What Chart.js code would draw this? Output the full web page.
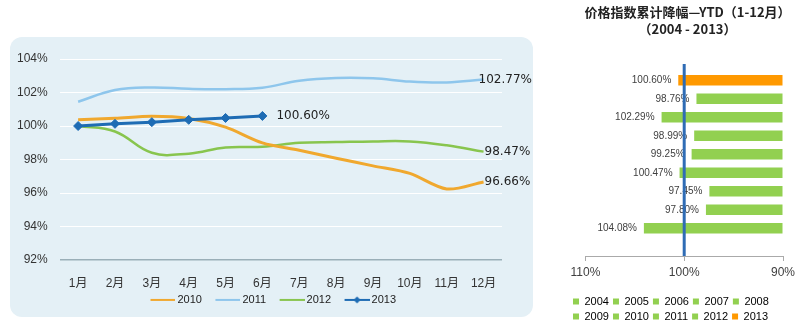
<!DOCTYPE html>
<html>
<head>
<meta charset="utf-8">
<script src="https://cdn.jsdelivr.net/npm/chart.js@4.4.1/dist/chart.umd.min.js"></script>
<style>
  html, body { margin: 0; padding: 0; background: #ffffff; overflow: hidden; }
  body { width: 800px; height: 333px; position: relative; }
  #trendBox {
    position: absolute; left: 10px; top: 37px; width: 523px; height: 280px;
    background: #e4f0f6; border-radius: 12px;
  }
  #ytdBox { position: absolute; left: 566px; top: 0; width: 234px; height: 333px; }
</style>
</head>
<body>
<div id="trendBox"><canvas id="trendChart"></canvas></div>
<div id="ytdBox"><canvas id="ytdChart"></canvas></div>

<script>
/* ============================================
   DATA
============================================ */

const months = ["1月", "2月", "3月", "4月", "5月", "6月", "7月", "8月", "9月", "10月", "11月", "12月"];

const index2010 = [100.38, 100.46, 100.58, 100.45, 99.93, 98.99, 98.55, 98.08, 97.62, 97.17, 96.24, 96.66];
const index2011 = [101.45, 102.15, 102.30, 102.22, 102.20, 102.29, 102.70, 102.87, 102.85, 102.65, 102.60, 102.77];
const index2012 = [100.00, 99.67, 98.40, 98.35, 98.72, 98.76, 99.00, 99.04, 99.08, 99.08, 98.85, 98.47];
const index2013 = [100.00, 100.13, 100.23, 100.37, 100.48, 100.60];

const ytdYears  = ["2004", "2005", "2006", "2007", "2008", "2009", "2010", "2011", "2012", "2013"];
const ytdValues = [null, 104.08, 97.80, 97.45, 100.47, 99.25, 98.99, 102.29, 98.76, 100.60];

/* ============================================
   STYLE
============================================ */

const C2010 = "#f0a82e";
const C2011 = "#8ec6ec";
const C2012 = "#88c54e";
const C2013 = "#1e6cb4";
const BAR_GREEN = "#92d050";
const BAR_ORANGE = "#ff9900";

Chart.defaults.font.family = "'Liberation Sans', Arial, 'Noto Sans CJK SC', sans-serif";
Chart.defaults.color = "#333333";
Chart.defaults.animation = false;

// line samples for the trend legend (line sits at the right end, next to the text)
function legendIcon(color, width, diamond) {
    const c = document.createElement("canvas");
    c.width = 38;
    c.height = 10;
    const g = c.getContext("2d");
    g.strokeStyle = color;
    g.lineWidth = width;
    g.beginPath();
    g.moveTo(13, 5);
    g.lineTo(38, 5);
    g.stroke();
    if (diamond) {
        g.fillStyle = color;
        g.beginPath();
        g.moveTo(25.5, 1.5);
        g.lineTo(29, 5);
        g.lineTo(25.5, 8.5);
        g.lineTo(22, 5);
        g.closePath();
        g.fill();
    }
    return c;
}

const trendIcons = [
    legendIcon(C2010, 2, false),
    legendIcon(C2011, 2, false),
    legendIcon(C2012, 2, false),
    legendIcon(C2013, 2, true)
];

/* ============================================
   Value labels at the end of each line
============================================ */

const endLabels = {
    id: "endLabels",
    afterDatasetsDraw(chart) {
        const ctx = chart.ctx;
        ctx.save();
        ctx.font = "12px 'DejaVu Sans', Verdana, sans-serif";
        ctx.fillStyle = "#222222";
        ctx.textAlign = "left";
        ctx.textBaseline = "middle";
        chart.data.datasets.forEach((ds, i) => {
            const last = ds.data.length - 1;
            const pt = chart.getDatasetMeta(i).data[last];
            ctx.fillText(ds.data[last].toFixed(2) + "%", pt.x + ds.labelGap, pt.y);
        });
        ctx.restore();
    }
};

/* ============================================
   Chart 1: monthly index lines
============================================ */

new Chart(document.getElementById("trendChart"), {
    type: "line",
    data: {
        labels: months,
        datasets: [
            { label: "2010", data: index2010, borderColor: C2010, backgroundColor: C2010,
              borderWidth: 3, pointRadius: 0, tension: 0.3, labelGap: 1 },
            { label: "2011", data: index2011, borderColor: C2011, backgroundColor: C2011,
              borderWidth: 2.5, pointRadius: 0, tension: 0.4, labelGap: -5 },
            { label: "2012", data: index2012, borderColor: C2012, backgroundColor: C2012,
              borderWidth: 2.5, pointRadius: 0, tension: 0.4, labelGap: 1 },
            { label: "2013", data: index2013, borderColor: C2013, backgroundColor: C2013,
              borderWidth: 3, pointStyle: "rectRot", pointRadius: 4.5,
              pointBackgroundColor: C2013, pointBorderColor: C2013, pointBorderWidth: 1,
              tension: 0, order: -1, labelGap: 14 }
        ]
    },
    options: {
        responsive: true,
        maintainAspectRatio: false,
        layout: { padding: { top: 22, left: 7, right: 13, bottom: 1.6 } },
        scales: {
            x: {
                offset: true,
                grid: { display: false, drawTicks: false },
                border: { display: false },
                ticks: { padding: 16, color: "#333333", font: { size: 12 } },
                afterFit(scale) { scale.height -= scale.options.ticks.padding; }
            },
            y: {
                min: 92,
                max: 104,
                grid: {
                    drawTicks: false,
                    color: ctx => (ctx.tick && ctx.tick.value === 92 ? "#9aafb8" : "#ffffff"),
                    lineWidth: ctx => (ctx.tick && ctx.tick.value === 92 ? 1.5 : 1)
                },
                border: { display: false },
                ticks: {
                    stepSize: 2,
                    padding: 12,
                    color: "#333333",
                    font: { size: 12 },
                    callback: v => v + "%"
                },
                afterFit(scale) { scale.width -= scale.options.ticks.padding; }
            },
            // empty strip on the right, room for the end labels
            yRight: {
                position: "right",
                grid: { display: false },
                border: { display: false },
                ticks: { display: false },
                afterFit(scale) { scale.width = 18; }
            }
        },
        plugins: {
            tooltip: { enabled: false },
            legend: {
                position: "bottom",
                labels: {
                    usePointStyle: true,
                    pointStyleWidth: 31,
                    padding: 4,
                    color: "#222222",
                    font: { size: 11 },
                    sort: (a, b) => a.datasetIndex - b.datasetIndex,
                    generateLabels: chart =>
                        Chart.defaults.plugins.legend.labels.generateLabels(chart)
                            .map(item => ({ ...item, pointStyle: trendIcons[item.datasetIndex] }))
                }
            }
        }
    },
    plugins: [endLabels]
});

/* ============================================
   Bar labels + 100% reference line
============================================ */

const barLabels = {
    id: "barLabels",
    afterDatasetsDraw(chart) {
        const { ctx, chartArea, scales } = chart;
        const bars = chart.getDatasetMeta(0).data;
        ctx.save();
        ctx.font = "10px 'Liberation Sans', Arial, sans-serif";
        ctx.fillStyle = "#404040";
        ctx.textAlign = "right";
        ctx.textBaseline = "middle";
        bars.forEach((bar, i) => {
            const v = ytdValues[i];
            if (v == null) return;
            ctx.fillText(v.toFixed(2) + "%", bar.x - 7, bar.y);
        });

        const x = scales.x.getPixelForValue(100);
        ctx.strokeStyle = "#2f6cb5";
        ctx.lineWidth = 3;
        ctx.beginPath();
        ctx.moveTo(x, chartArea.top - 7);
        ctx.lineTo(x, chartArea.bottom);
        ctx.stroke();
        ctx.restore();
    }
};

const barColor = i => (i === ytdYears.length - 1 ? BAR_ORANGE : BAR_GREEN);

/* ============================================
   Chart 2: YTD decline per year
============================================ */

new Chart(document.getElementById("ytdChart"), {
    type: "bar",
    data: {
        labels: ytdYears,
        datasets: [{
            label: "YTD",
            data: ytdValues,
            base: 90,
            backgroundColor: ctx => barColor(ctx.dataIndex),
            categoryPercentage: 1,
            barPercentage: 0.58
        }]
    },
    options: {
        indexAxis: "y",
        responsive: true,
        maintainAspectRatio: false,
        layout: { padding: { top: 0, left: 3, right: -6, bottom: 1 } },
        scales: {
            x: {
                min: 90,
                max: 110,
                reverse: true,
                grid: { drawOnChartArea: false, drawTicks: true, tickLength: 5, color: "#aaaaaa" },
                border: { color: "#aaaaaa" },
                ticks: {
                    stepSize: 10,
                    padding: 4.5,
                    color: "#404040",
                    font: { size: 12 },
                    callback: v => v + "%"
                },
                afterFit(scale) { scale.height = 36; }
            },
            y: {
                position: "right",
                reverse: true,
                grid: { display: false },
                border: { display: false },
                ticks: { display: false },
                afterFit(scale) { scale.width = 23; }
            }
        },
        plugins: {
            tooltip: { enabled: false },
            title: {
                display: true,
                text: ["价格指数累计降幅—YTD（1-12月）", "（2004 - 2013）"],
                color: "#222222",
                font: { size: 13, weight: "bold", lineHeight: 1.3,
                        family: "'Noto Sans CJK SC', 'Liberation Sans', sans-serif" },
                padding: { top: 3.5, bottom: 33.7 }
            },
            legend: {
                position: "bottom",
                align: "start",
                labels: {
                    boxWidth: 6,
                    boxHeight: 6,
                    padding: 4,
                    color: "#404040",
                    font: { size: 11 },
                    generateLabels: () => ytdYears.map((year, i) => ({
                        text: year,
                        fillStyle: barColor(i),
                        strokeStyle: barColor(i),
                        lineWidth: 0,
                        hidden: false,
                        index: i
                    }))
                }
            }
        }
    },
    plugins: [barLabels]
});
</script>
</body>
</html>
